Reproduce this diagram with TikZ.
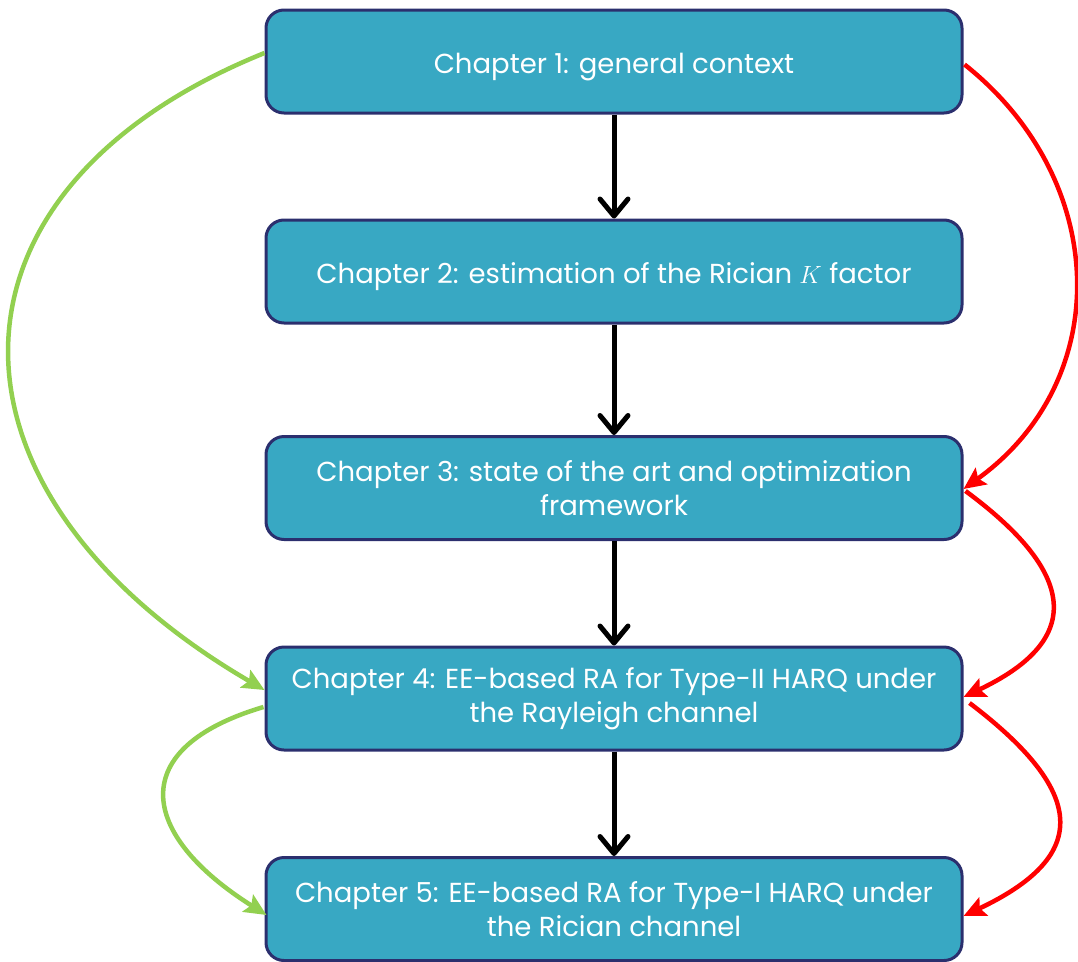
\documentclass[tikz,border=0pt]{standalone}
\usepackage{fontspec}
\setmainfont{Poppins}
\usetikzlibrary{arrows.meta,calc}
\definecolor{boxfill}{HTML}{38A8C3}
\definecolor{boxline}{HTML}{2B2F6E}
\definecolor{linkred}{HTML}{FF0000}
\definecolor{linkgreen}{HTML}{92D050}
% invisible strut that lowers a single line a little inside its box
\newcommand{\onelinestrut}{\rule{0pt}{31pt}}
\begin{document}
\begin{tikzpicture}[x=1pt,y=-1pt,
  chapter/.style={draw=boxline, line width=3pt, fill=boxfill, rounded corners=18pt,
    minimum width=696pt, minimum height=103pt, inner sep=0pt, align=center,
    text=white, font=\fontsize{27.5}{34}\selectfont},
  flow/.style={line width=5pt, -{Straight Barb[length=17pt,width=28pt,round]}},
  back/.style={line width=4.5pt, linkred, -{Stealth[length=22pt,width=20pt,inset=4pt]}},
  skip/.style={line width=4.5pt, linkgreen, -{Stealth[length=22pt,width=20pt,inset=4pt]}}]
\useasboundingbox (0,0) rectangle (1078,961);

\node[chapter] (c1) at (614,61.5) {\onelinestrut Chapter 1: general context};
\node[chapter] (c2) at (614,271.5) {\onelinestrut Chapter 2: estimation of the Rician $K$ factor};
\node[chapter] (c3) at (614,488) {Chapter 3: state of the art and optimization\\framework};
\node[chapter] (c4) at (614,698.5) {Chapter 4: EE-based RA for Type-II HARQ under\\the Rayleigh channel};
\node[chapter] (c5) at (614,909) {Chapter 5: EE-based RA for Type-I HARQ under\\the Rician channel};

% main sequence
\draw[flow] (c1.south) -- (c2.north);
\draw[flow] (c2.south) -- (c3.north);
\draw[flow] (c3.south) -- (c4.north);
\draw[flow] (c4.south) -- (c5.north);

% right-hand links
\draw[back] ($(c1.east)+(1,3)$) .. controls (1110,180) and (1115,380) .. ($(c3.east)+(0,1)$);
\draw[back] ($(c3.east)+(2,3)$) .. controls (1082,577) and (1080,642) .. ($(c4.east)+(0,-1.5)$);
\draw[back] ($(c4.east)+(6,4.5)$) .. controls (1092,796) and (1086,858) .. ($(c5.east)+(0,7)$);

% left-hand links
\draw[skip] ($(c1.west)+(0,-8.5)$) .. controls (-75,190) and (-75,492) .. ($(c4.west)+(0,-8.5)$);
\draw[skip] ($(c4.west)+(-1,8.5)$) .. controls (125,748) and (138,834) .. ($(c5.west)+(2,6)$);
\end{tikzpicture}
\end{document}
